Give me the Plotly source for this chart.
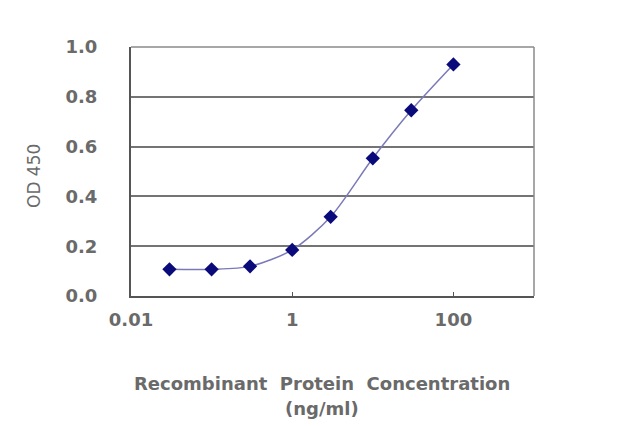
import plotly.graph_objects as go

concentration = [0.03, 0.1, 0.3, 1, 3, 10, 30, 100]
od450 = [0.107, 0.107, 0.119, 0.185, 0.318, 0.553, 0.746, 0.93]
x_ticks = [0.01, 1, 100]
x_tick_labels = ["0.01", "1", "100"]
y_ticks = [0.0, 0.2, 0.4, 0.6, 0.8, 1.0]
y_tick_labels = ["0.0", "0.2", "0.4", "0.6", "0.8", "1.0"]

font_family = "DejaVu Sans, Verdana, sans-serif"
text_color = "#6a6a6a"

# layout geometry (page offset of ~7px from body margin)
OFF = 7
L, T = 123, 39
PW, PH = 403, 249
W, H = 633, 420
R = W - L - PW
B = H - T - PH


def px_to_paper_x(px):
    return (px - OFF - L) / PW


def px_to_paper_y(py):
    return (T + PH - (py - OFF)) / PH


tick_font = dict(size=18, family="DejaVu Sans", weight="bold", color=text_color)
title_font = dict(size=18, family="DejaVu Sans", weight="bold", color=text_color)

fig = go.Figure()
fig.add_trace(go.Scatter(
    x=concentration, y=od450, mode="lines+markers",
    line=dict(shape="spline", smoothing=0.8, color="#7a7ab8", width=1.5),
    marker=dict(symbol="diamond", size=11, color="#0a0a7a"),
    showlegend=False,
))

fig.update_layout(
    width=W, height=H,
    margin=dict(l=L, r=R, t=T, b=B, pad=0),
    paper_bgcolor="white", plot_bgcolor="white",
    font=dict(family=font_family, color=text_color, size=18),
    xaxis=dict(
        type="log", range=[-2, 3],
        tickvals=x_ticks, ticktext=x_tick_labels,
        showgrid=False, zeroline=False,
        showline=True, linecolor="#555555", linewidth=2,
        ticks="inside", ticklen=4, tickcolor="#555555",
        ticklabelstandoff=6,
        tickfont=tick_font,
    ),
    yaxis=dict(
        range=[0, 1.0],
        tickvals=y_ticks, ticktext=y_tick_labels,
        showgrid=True, gridcolor="#747474", gridwidth=1.5,
        zeroline=False,
        showline=True, linecolor="#555555", linewidth=2,
        ticks="", ticklabelstandoff=28,
        tickfont=tick_font,
    ),
    shapes=[
        dict(type="line", xref="paper", yref="paper", x0=0, x1=1, y0=1, y1=1,
             line=dict(color="#8a8a8a", width=1.5)),
        dict(type="line", xref="paper", yref="paper", x0=1, x1=1, y0=0, y1=1,
             line=dict(color="#8a8a8a", width=1.5)),
    ],
    annotations=[
        dict(text="Recombinant  Protein  Concentration",
             x=px_to_paper_x(321), y=px_to_paper_y(382),
             xref="paper", yref="paper", xanchor="center", yanchor="middle",
             showarrow=False, font=title_font),
        dict(text="(ng/ml)",
             x=px_to_paper_x(321), y=px_to_paper_y(407),
             xref="paper", yref="paper", xanchor="center", yanchor="middle",
             showarrow=False, font=title_font),
        dict(text="OD 450", textangle=-90,
             x=px_to_paper_x(33), y=px_to_paper_y(175),
             xref="paper", yref="paper", xanchor="center", yanchor="middle",
             showarrow=False,
             font=dict(size=17, family="DejaVu Sans", color=text_color)),
    ],
)

fig.write_html("out.html")
